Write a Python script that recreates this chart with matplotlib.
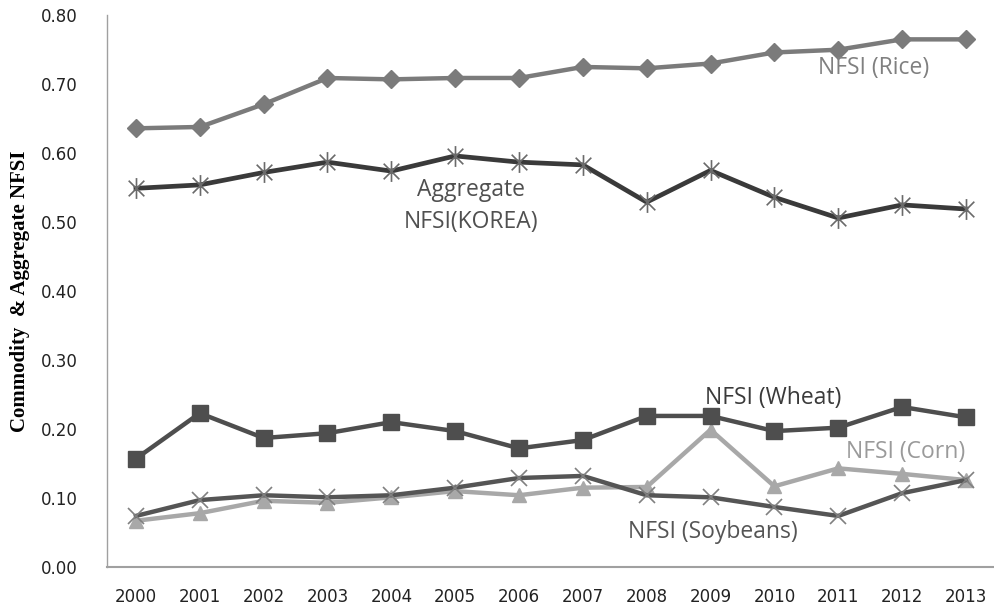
import matplotlib
matplotlib.use("Agg")
import matplotlib.pyplot as plt
from matplotlib.path import Path

years = ["2000", "2001", "2002", "2003", "2004", "2005", "2006",
         "2007", "2008", "2009", "2010", "2011", "2012", "2013"]
rice = [0.636, 0.638, 0.671, 0.709, 0.707, 0.709, 0.709,
        0.725, 0.723, 0.730, 0.746, 0.750, 0.765, 0.765]
aggregate = [0.549, 0.554, 0.572, 0.587, 0.574, 0.596, 0.587,
             0.583, 0.529, 0.575, 0.536, 0.506, 0.525, 0.519]
wheat = [0.157, 0.223, 0.187, 0.194, 0.210, 0.197, 0.172,
         0.184, 0.219, 0.219, 0.197, 0.202, 0.232, 0.217]
corn = [0.067, 0.078, 0.096, 0.093, 0.101, 0.110, 0.104,
        0.115, 0.116, 0.199, 0.117, 0.143, 0.135, 0.126]
soybeans = [0.074, 0.097, 0.104, 0.101, 0.104, 0.115, 0.129,
            0.132, 0.104, 0.101, 0.087, 0.074, 0.107, 0.126]
yticks = [0.0, 0.1, 0.2, 0.3, 0.4, 0.5, 0.6, 0.7, 0.8]

star = Path([(0, -1), (0, 1), (-0.75, -0.75), (0.75, 0.75), (-0.75, 0.75), (0.75, -0.75)],
            [Path.MOVETO, Path.LINETO, Path.MOVETO, Path.LINETO, Path.MOVETO, Path.LINETO])

fig = plt.figure(figsize=(9.94, 6.09), dpi=100)
ax = fig.add_axes([0.1076, 0.069, 0.8924, 0.906])
x = list(range(len(years)))

ax.plot(x, rice, color="#7b7b7b", lw=3.2, marker="D", ms=9, mfc="#7b7b7b", mec="#7b7b7b", zorder=3)
ax.plot(x, aggregate, color="#3a3a3a", lw=3.4, marker=star, ms=15, mew=1.2, mfc="none", mec="#6a6a6a", zorder=3)
ax.plot(x, wheat, color="#4e4e4e", lw=3.2, marker="s", ms=11, mfc="#4e4e4e", mec="#4e4e4e", zorder=3)
ax.plot(x, corn, color="#a8a8a8", lw=3.2, marker="^", ms=10, mfc="#a8a8a8", mec="#a8a8a8", zorder=2)
ax.plot(x, soybeans, color="#555555", lw=3.2, marker="x", ms=12, mew=1.2, mec="#808080", zorder=3)

ax.set_xlim(-0.454, 13.44)
ax.set_ylim(0, 0.8)
ax.set_xticks(x)
ax.set_xticklabels(years)
ax.set_yticks(yticks)
ax.set_yticklabels([f"{v:.2f}" for v in yticks])
ax.tick_params(axis="both", length=0, labelsize=12, colors="#222222")
ax.tick_params(axis="x", pad=15)
ax.tick_params(axis="y", pad=21)
for lab in ax.get_xticklabels() + ax.get_yticklabels():
    lab.set_fontfamily("DejaVu Sans")

for s in ["top", "right"]:
    ax.spines[s].set_visible(False)
ax.spines["left"].set_color("#a0a0a0")
ax.spines["bottom"].set_color("#a0a0a0")
ax.spines["left"].set_linewidth(1.0)
ax.spines["bottom"].set_linewidth(1.5)

fig.text(0.020, 0.522, "Commodity  & Aggregate NFSI", rotation=90, ha="center", va="center",
         fontfamily="Liberation Serif", fontweight="bold", fontsize=15)

afont = dict(fontfamily="Open Sans", fontsize=16.5)
ax.text(11.56, 0.723, "NFSI (Rice)", color="#808080", ha="center", va="center", **afont)
ax.text(5.25, 0.546, "Aggregate", color="#505050", ha="center", va="center", **afont)
ax.text(5.25, 0.500, "NFSI(KOREA)", color="#505050", ha="center", va="center", **afont)
ax.text(9.98, 0.245, "NFSI (Wheat)", color="#3a3a3a", ha="center", va="center", **afont)
ax.text(12.06, 0.167, "NFSI (Corn)", color="#9a9a9a", ha="center", va="center", **afont)
ax.text(9.04, 0.051, "NFSI (Soybeans)", color="#555555", ha="center", va="center", **afont)

fig.savefig("out.png", dpi=100)
